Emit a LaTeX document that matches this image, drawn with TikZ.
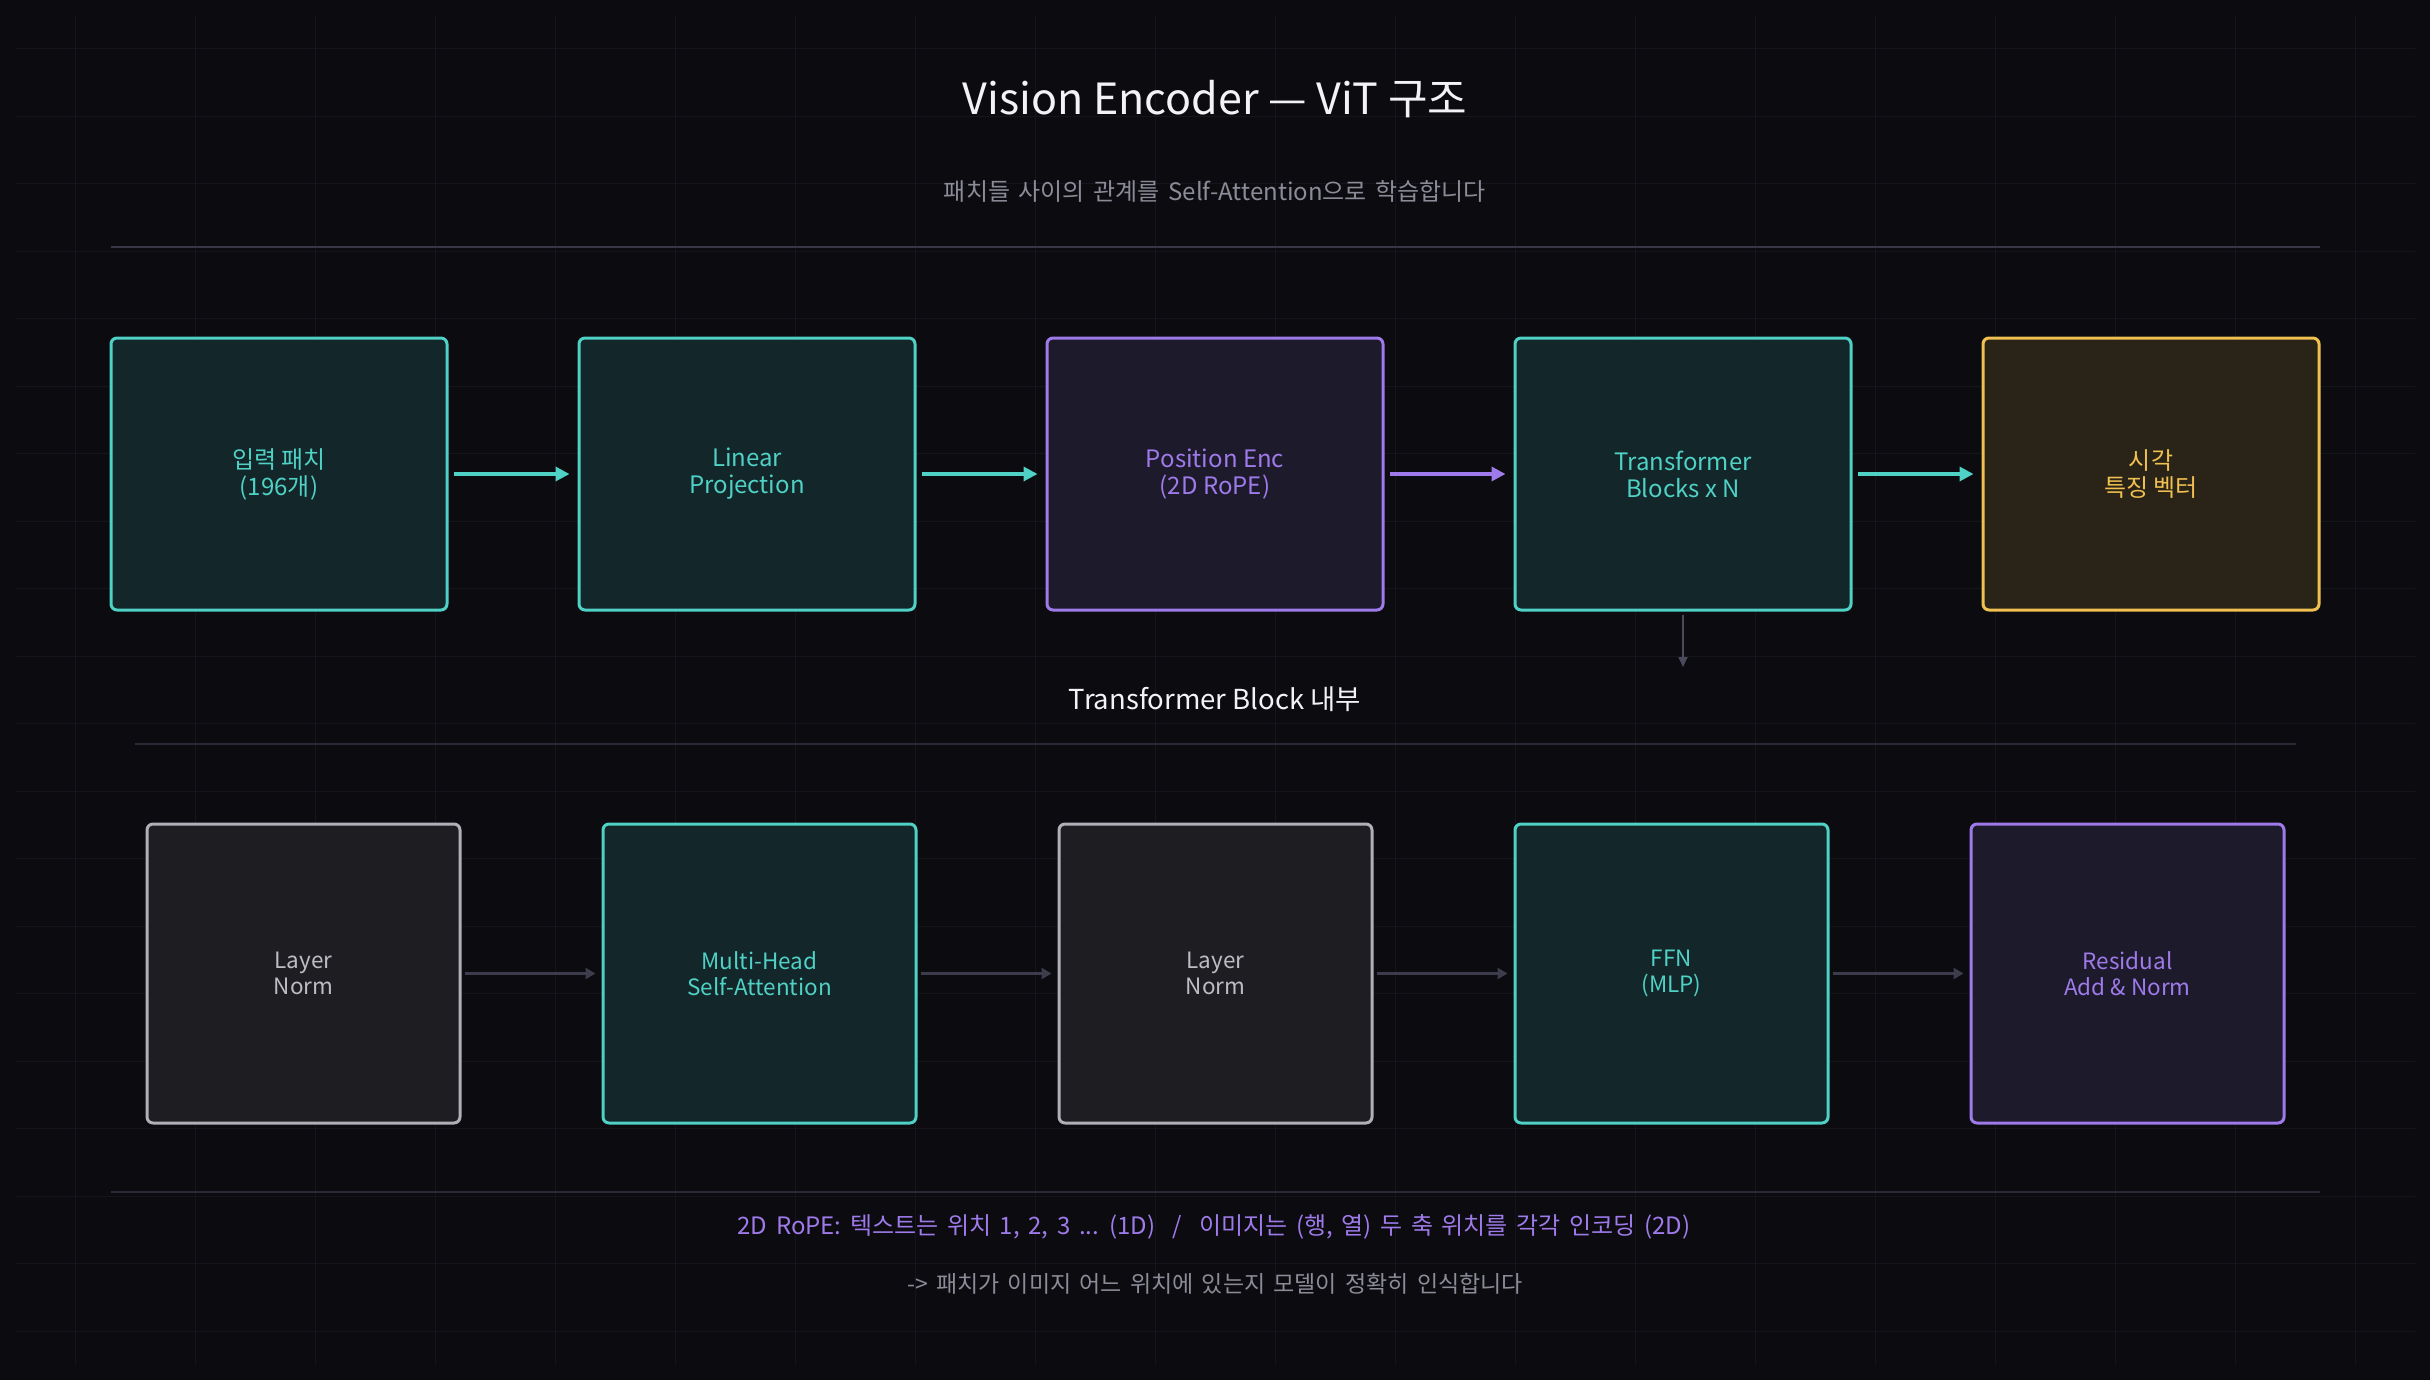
\documentclass[tikz,border=0pt]{standalone}
\usepackage{fontspec}
\setmainfont{Noto Sans CJK KR}
\newfontfamily\widefont[WordSpace=1.6]{Noto Sans CJK KR}
\usetikzlibrary{arrows.meta}
\definecolor{bgc}{HTML}{0B0B10}
\definecolor{gridc}{HTML}{15151C}
\definecolor{sepc}{HTML}{363644}
\definecolor{sepd}{HTML}{2A2A36}
\definecolor{cteal}{HTML}{4FD1C5}
\definecolor{fteal}{HTML}{13262A}
\definecolor{cpurp}{HTML}{9F7AEA}
\definecolor{fpurp}{HTML}{1D1A2C}
\definecolor{cyell}{HTML}{F0C050}
\definecolor{fyell}{HTML}{2A2418}
\definecolor{cgray}{HTML}{B0B0B8}
\definecolor{tgray}{HTML}{BCBCC4}
\definecolor{fgray}{HTML}{1E1E22}
\definecolor{arrg}{HTML}{3C3C4C}
\definecolor{downc}{HTML}{4A4A5C}
\definecolor{subc}{HTML}{8C8C98}
\definecolor{titc}{HTML}{F2F2F7}
\begin{document}
\begin{tikzpicture}[x=1pt,y=-1pt,
  box/.style={rectangle, rounded corners=6pt, line width=3pt, align=center},
  topbox/.style={box, minimum width=336pt, minimum height=272pt, font=\fontsize{24}{27}\selectfont},
  botbox/.style={box, minimum width=313pt, minimum height=299pt, font=\fontsize{22.5}{26}\selectfont},
  tealbox/.style={draw=cteal, fill=fteal, text=cteal},
  purpbox/.style={draw=cpurp, fill=fpurp, text=cpurp},
  yellbox/.style={draw=cyell, fill=fyell, text=cyell},
  graybox/.style={draw=cgray, fill=fgray, text=tgray},
  toparrow/.style={-{Triangle[length=14pt,width=14pt]}, line width=3.5pt, shorten <=5pt, shorten >=8pt},
  botarrow/.style={-{Triangle[length=10pt,width=11pt]}, line width=3pt, draw=arrg, shorten <=3pt, shorten >=6pt},
  sepline/.style={line width=1.5pt},
  gridline/.style={draw=gridc, line width=1pt}]
\fill[bgc] (0,0) rectangle (2430,1380);
\useasboundingbox (0,0) rectangle (2430,1380);
% grid
\foreach \i in {0,...,19} {
  \draw[gridline] ({75+120*\i},15) -- ({75+120*\i},1365);
  \draw[gridline] (15,{48.75+67.5*\i}) -- (2415,{48.75+67.5*\i});
}
% title
\node[text=titc, font=\fontsize{43}{50}\selectfont] (title) at (1215,99) {Vision Encoder — ViT 구조};
\node[text=subc, font=\widefont\fontsize{24}{28}\selectfont] (subtitle) at (1215,191) {패치들 사이의 관계를 Self-Attention으로 학습합니다};
\draw[sepline, sepc] (111,247) -- (2320,247);
% top row
\node[topbox, tealbox] (t1) at (279,474) {입력 패치\\(196개)};
\node[topbox, tealbox] (t2) at (747,474) {Linear\\Projection};
\node[topbox, purpbox] (t3) at (1215,474) {Position Enc\\(2D RoPE)};
\node[topbox, tealbox] (t4) at (1683,474) {Transformer\\Blocks x N};
\node[topbox, yellbox] (t5) at (2151,474) {시각\\특징 벡터};
\draw[toparrow, cteal] (t1.east) -- (t2.west);
\draw[toparrow, cteal] (t2.east) -- (t3.west);
\draw[toparrow, cpurp] (t3.east) -- (t4.west);
\draw[toparrow, cteal] (t4.east) -- (t5.west);
% down arrow
\coordinate (downend) at (1683,667);
\draw[-{Triangle[length=10pt,width=9pt]}, line width=1.8pt, draw=downc, fill=downc, shorten <=3pt] (t4.south) -- (downend);
% section label
\node[text=titc, font=\fontsize{27.5}{32}\selectfont] (sec) at (1215,699) {Transformer Block 내부};
\draw[sepline, sepd] (135,744) -- (2296,744);
% bottom row
\node[botbox, graybox] (b1) at (303.5,973.5) {Layer\\Norm};
\node[botbox, tealbox] (b2) at (759.5,973.5) {Multi-Head\\Self-Attention};
\node[botbox, graybox] (b3) at (1215.5,973.5) {Layer\\Norm};
\node[botbox, tealbox] (b4) at (1671.5,973.5) {FFN\\(MLP)};
\node[botbox, purpbox] (b5) at (2127.5,973.5) {Residual\\Add \& Norm};
\draw[botarrow] (b1.east) -- (b2.west);
\draw[botarrow] (b2.east) -- (b3.west);
\draw[botarrow] (b3.east) -- (b4.west);
\draw[botarrow] (b4.east) -- (b5.west);
% footer
\draw[sepline, sepd] (111,1192) -- (2320,1192);
\node[text=cpurp, font=\widefont\fontsize{24}{28}\selectfont] (foot1) at (1214,1227) {2D RoPE: 텍스트는 위치 1, 2, 3 ... (1D) \ / \ 이미지는 (행, 열) 두 축 위치를 각각 인코딩 (2D)};
\node[text=subc, font=\widefont\fontsize{23}{27}\selectfont] (foot2) at (1215,1284) {->{} 패치가 이미지 어느 위치에 있는지 모델이 정확히 인식합니다};
\end{tikzpicture}
\end{document}
